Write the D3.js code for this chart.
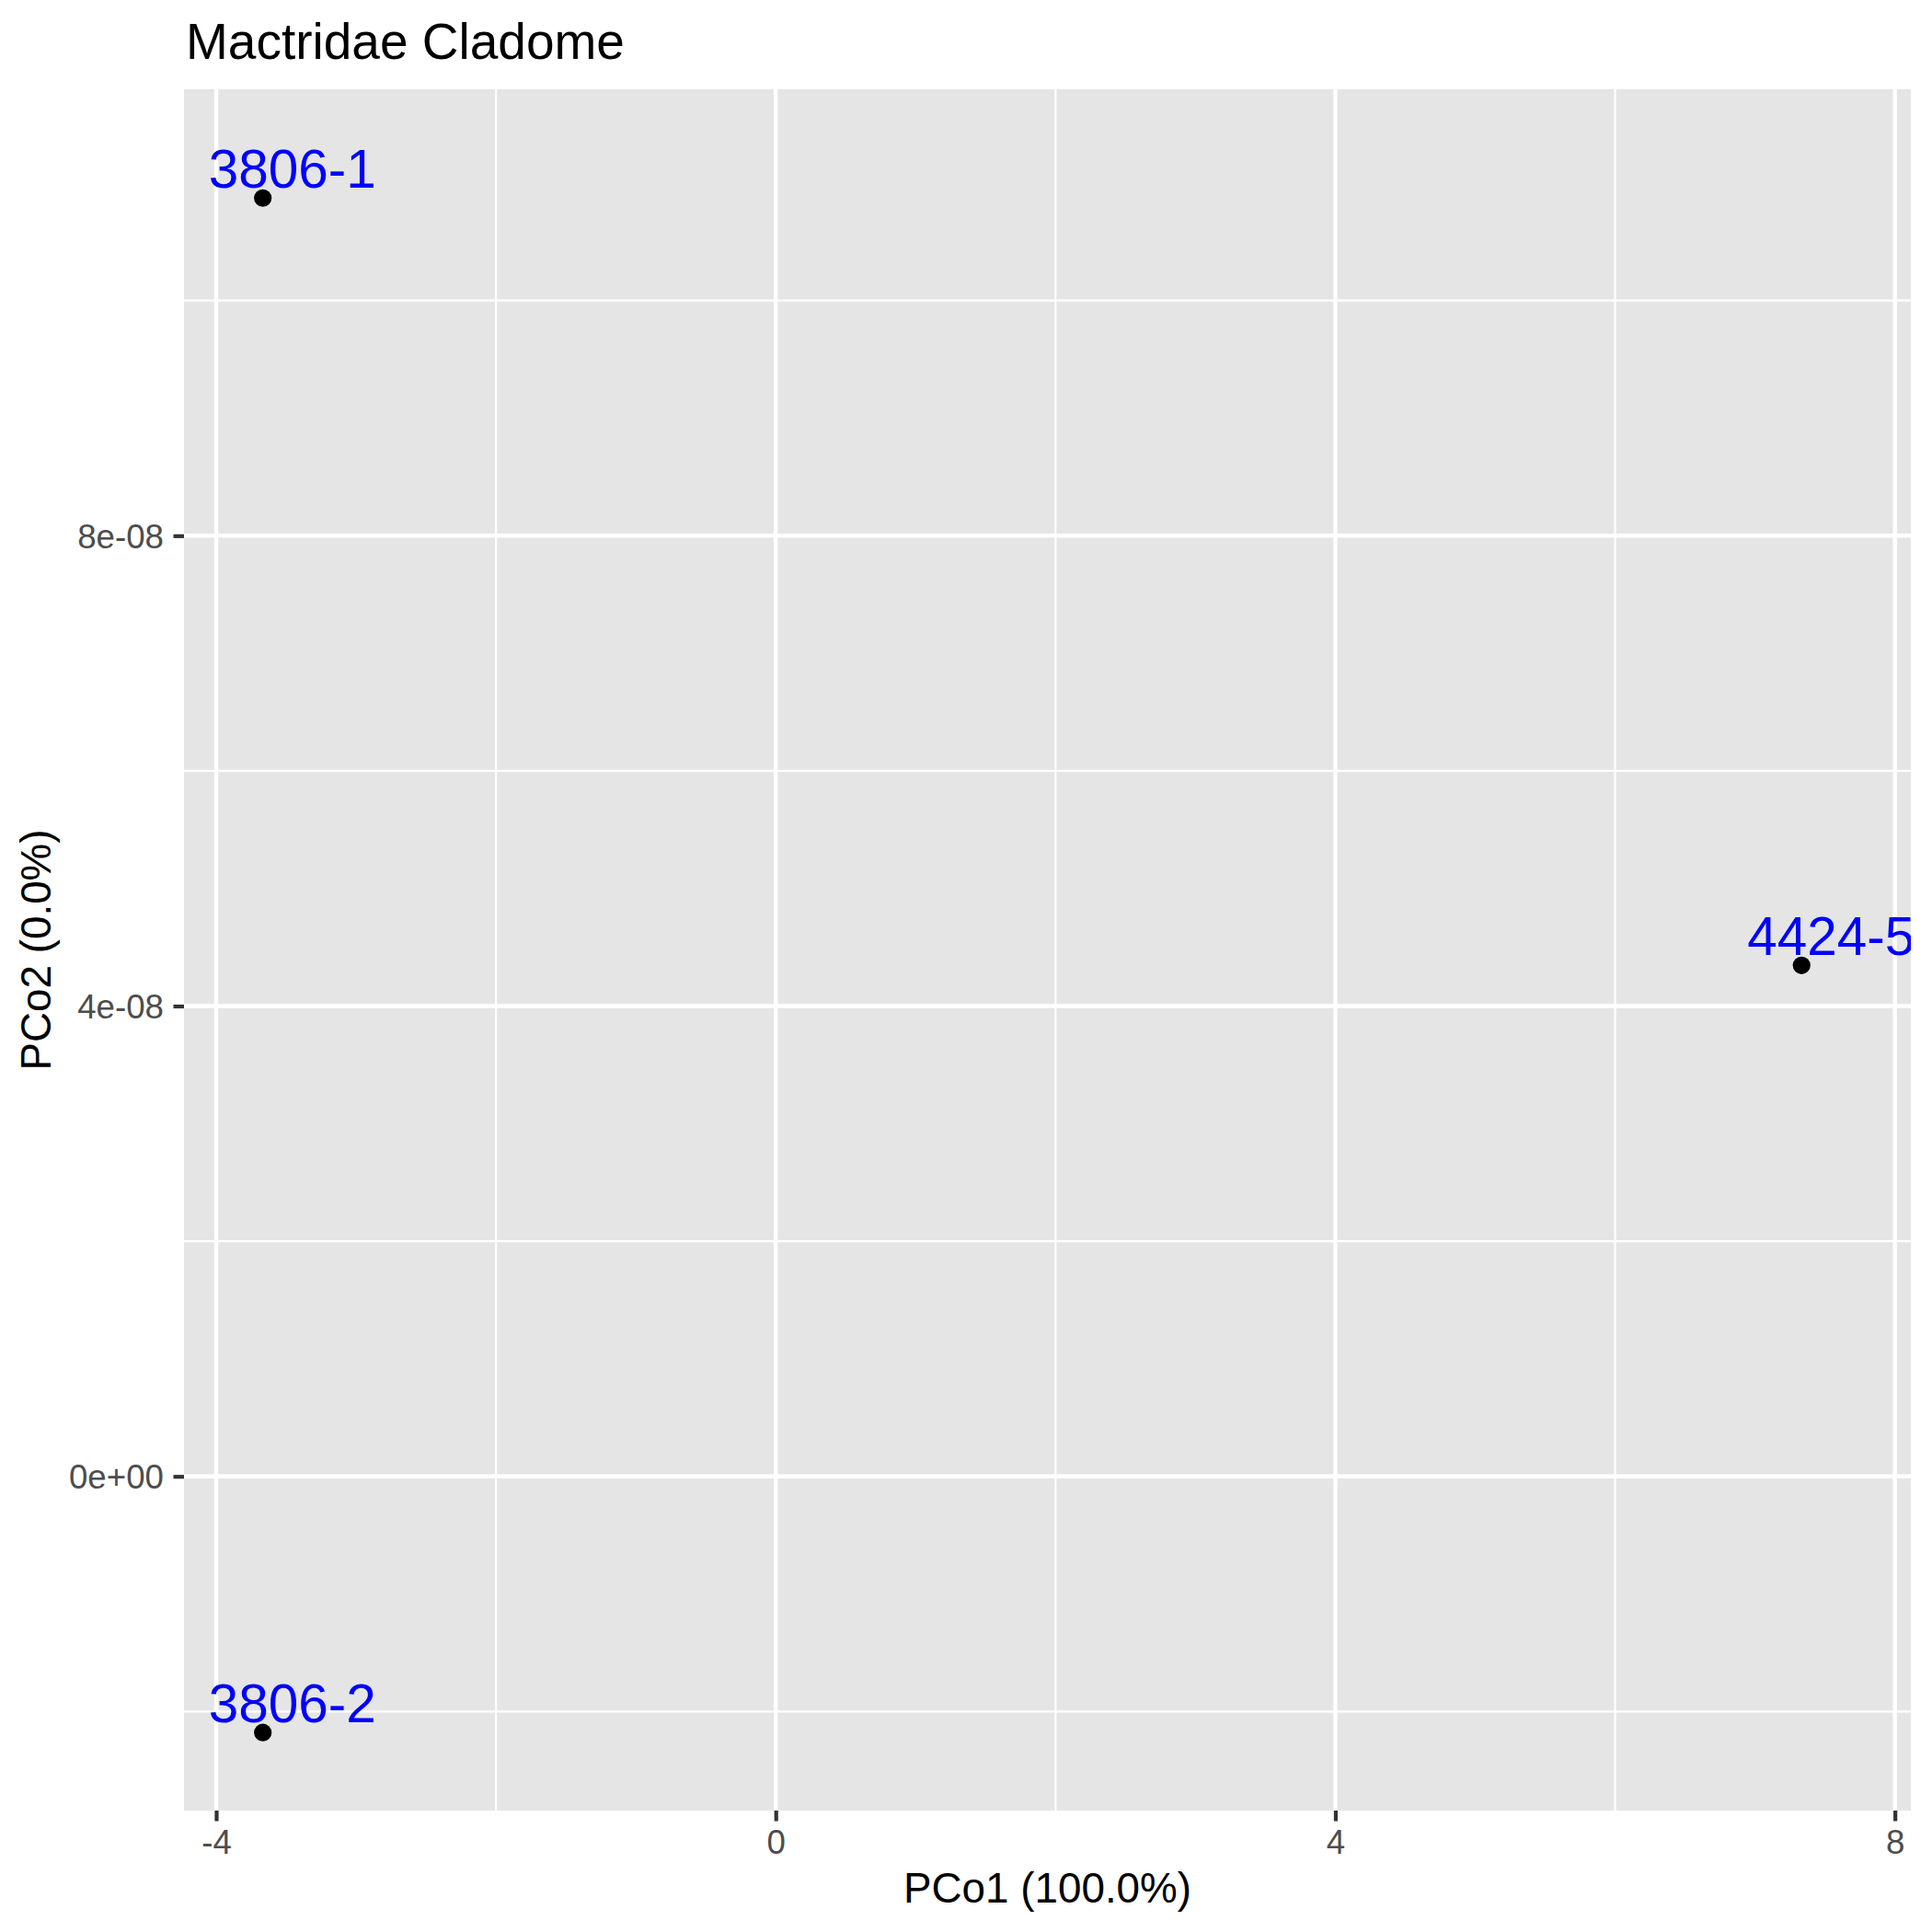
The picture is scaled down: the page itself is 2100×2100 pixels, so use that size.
<!DOCTYPE html>
<html>
<head>
<meta charset="utf-8">
<script src="https://cdn.jsdelivr.net/npm/d3@7"></script>
<style>
  body { margin: 0; background: #fff; }
  svg { display: block; font-family: "Liberation Sans", Arial, sans-serif; }
</style>
</head>
<body>
<script>
// ---- data ----
const sampleLabels = ["3806-1", "3806-2", "4424-5"];
const pco1Values = [-3.6665, -3.6665, 7.333];
const pco2Values = [1.0872e-7, -2.179e-8, 4.346e-8];
const xTickValues = [-4, 0, 4, 8];
const xTickLabels = ["-4", "0", "4", "8"];
const xMinorValues = [-2, 2, 6];
const yTickValues = [0, 4e-8, 8e-8];
const yTickLabels = ["0e+00", "4e-08", "8e-08"];
const yMinorValues = [-2e-8, 2e-8, 6e-8, 1e-7];
const xDomain = [-4.23, 8.114];
const yDomain = [-2.8427e-8, 1.17974e-7];
const titleText = "Mactridae Cladome";
const xTitle = "PCo1 (100.0%)";
const yTitle = "PCo2 (0.0%)";

// ---- layout ----
const W = 2100, H = 2100;
const panel = { left: 200, top: 97, right: 2077, bottom: 1968 };

const svg = d3.select("body").append("svg").attr("width", W).attr("height", H);

const x = d3.scaleLinear().domain(xDomain).range([panel.left, panel.right]);
const y = d3.scaleLinear().domain(yDomain).range([panel.bottom, panel.top]);

// panel background
svg.append("rect")
  .attr("x", panel.left).attr("y", panel.top)
  .attr("width", panel.right - panel.left).attr("height", panel.bottom - panel.top)
  .attr("fill", "#E5E5E5");

svg.append("clipPath").attr("id", "clip")
  .append("rect")
  .attr("x", panel.left).attr("y", panel.top)
  .attr("width", panel.right - panel.left).attr("height", panel.bottom - panel.top);

const grid = svg.append("g").attr("clip-path", "url(#clip)");
// minor grid
grid.selectAll(".xminor").data(xMinorValues).join("line")
  .attr("x1", d => x(d)).attr("x2", d => x(d))
  .attr("y1", panel.top).attr("y2", panel.bottom)
  .attr("stroke", "#fff").attr("stroke-width", 2.2);
grid.selectAll(".yminor").data(yMinorValues).join("line")
  .attr("y1", d => y(d)).attr("y2", d => y(d))
  .attr("x1", panel.left).attr("x2", panel.right)
  .attr("stroke", "#fff").attr("stroke-width", 2.2);
// major grid
grid.selectAll(".xmajor").data(xTickValues).join("line")
  .attr("x1", d => x(d)).attr("x2", d => x(d))
  .attr("y1", panel.top).attr("y2", panel.bottom)
  .attr("stroke", "#fff").attr("stroke-width", 4.4);
grid.selectAll(".ymajor").data(yTickValues).join("line")
  .attr("y1", d => y(d)).attr("y2", d => y(d))
  .attr("x1", panel.left).attr("x2", panel.right)
  .attr("stroke", "#fff").attr("stroke-width", 4.4);

// axes
const xAxis = d3.axisBottom(x)
  .tickValues(xTickValues)
  .tickFormat((d, i) => xTickLabels[i])
  .tickSize(11.5).tickSizeOuter(0).tickPadding(6);
const gx = svg.append("g").attr("transform", `translate(0,${panel.bottom})`).call(xAxis);
gx.select(".domain").remove();
gx.selectAll(".tick line").attr("stroke", "#333333").attr("stroke-width", 4.2);
gx.selectAll(".tick text")
  .attr("fill", "#4D4D4D").attr("font-size", 36.7)
  .attr("dy", null).attr("y", 47);

const yAxis = d3.axisLeft(y)
  .tickValues(yTickValues)
  .tickFormat((d, i) => yTickLabels[i])
  .tickSize(11.5).tickSizeOuter(0).tickPadding(10);
const gy = svg.append("g").attr("transform", `translate(${panel.left},0)`).call(yAxis);
gy.select(".domain").remove();
gy.selectAll(".tick line").attr("stroke", "#333333").attr("stroke-width", 4.2);
gy.selectAll(".tick text")
  .attr("fill", "#4D4D4D").attr("font-size", 36.7)
  .attr("x", -22).attr("dy", "0.35em");

// points and labels
const data = sampleLabels.map((lab, i) => ({ lab, px: pco1Values[i], py: pco2Values[i] }));
const marks = svg.append("g").attr("clip-path", "url(#clip)");
marks.selectAll("circle").data(data).join("circle")
  .attr("cx", d => x(d.px)).attr("cy", d => y(d.py))
  .attr("r", 9.6).attr("fill", "#000");
marks.selectAll("text").data(data).join("text")
  .attr("x", d => x(d.px) - 59).attr("y", d => y(d.py) - 11)
  .attr("font-size", 58.5).attr("fill", "#0000FF")
  .text(d => d.lab);

// titles
svg.append("text")
  .attr("x", 202).attr("y", 64)
  .attr("font-size", 55).attr("fill", "#000")
  .text(titleText);

svg.append("text")
  .attr("x", (panel.left + panel.right) / 2).attr("y", 2068)
  .attr("text-anchor", "middle")
  .attr("font-size", 45.8).attr("fill", "#000")
  .text(xTitle);

svg.append("text")
  .attr("transform", `translate(55,${(panel.top + panel.bottom) / 2}) rotate(-90)`)
  .attr("text-anchor", "middle")
  .attr("font-size", 45.8).attr("fill", "#000")
  .text(yTitle);
</script>
</body>
</html>
